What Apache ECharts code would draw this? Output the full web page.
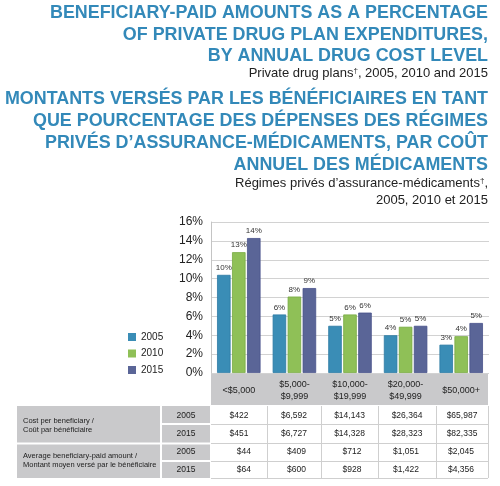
<!DOCTYPE html>
<html>
<head>
<meta charset="utf-8">
<script src="https://cdn.jsdelivr.net/npm/echarts@6/dist/echarts.min.js"></script>
<style>
html,body{margin:0;padding:0;background:#fff;}
#chart{width:500px;height:486px;}
</style>
</head>
<body>
<div id="chart"></div>
<script>
// ---- data ----
const categories = ['<$5,000', '$5,000-\n$9,999', '$10,000-\n$19,999', '$20,000-\n$49,999', '$50,000+'];
const years = ['2005', '2010', '2015'];
const pct2005 = [10.4, 6.2, 5.0, 4.0, 3.0];
const pct2010 = [12.8, 8.1, 6.2, 4.9, 3.9];
const pct2015 = [14.3, 9.0, 6.4, 5.0, 5.3];
const yMin = 0, yMax = 16, yStep = 2;

const titleEn = ['BENEFICIARY-PAID AMOUNTS AS A PERCENTAGE', 'OF PRIVATE DRUG PLAN EXPENDITURES,', 'BY ANNUAL DRUG COST LEVEL'];
const subEn = ['Private drug plans†, 2005, 2010 and 2015'];
const titleFr = ['MONTANTS VERSÉS PAR LES BÉNÉFICIAIRES EN TANT', 'QUE POURCENTAGE DES DÉPENSES DES RÉGIMES', 'PRIVÉS D’ASSURANCE-MÉDICAMENTS, PAR COÛT', 'ANNUEL DES MÉDICAMENTS'];
const subFr = ['Régimes privés d’assurance-médicaments†,', '2005, 2010 et 2015'];

const rowGroupLabels = ['Cost per beneficiary /\nCoût par bénéficiaire', 'Average beneficiary-paid amount /\nMontant moyen versé par le bénéficiaire'];
const tableYears = ['2005', '2015'];
const cost2005 = ['$422', '$6,592', '$14,143', '$26,364', '$65,987'];
const cost2015 = ['$451', '$6,727', '$14,328', '$28,323', '$82,335'];
const paid2005 = ['$44', '$409', '$712', '$1,051', '$2,045'];
const paid2015 = ['$64', '$600', '$928', '$1,422', '$4,356'];

// ---- style ----
const FONT = '"Liberation Sans", Arial, Helvetica, sans-serif';
const BLUE = '#3389b9';
const colors = ['#3a8db6', '#8fc057', '#5a6597'];
const borders = ['#2c7aa3', '#77a943', '#47518a'];
const GRAY = '#c9c9cb';
const LINE = '#cfcfcf';

const chart = echarts.init(document.getElementById('chart'), null, {renderer: 'canvas'});

const graphics = [];
function txt(x, y, s, opt) {
  graphics.push({type: 'text', x: x, y: y, silent: true, style: Object.assign({
    text: s, fontFamily: FONT, fill: '#222', align: 'right', verticalAlign: 'middle'
  }, opt)});
}
function rect(x, y, w, h, fill, z) {
  graphics.push({type: 'rect', shape: {x: x, y: y, width: w, height: h}, silent: true, z: z || 0, style: {fill: fill}});
}
function line(x1, y1, x2, y2, c) {
  graphics.push({type: 'line', shape: {x1: x1, y1: y1, x2: x2, y2: y2}, silent: true, z: 1, style: {stroke: c, lineWidth: 1}});
}
const supRich = {sup: {fontSize: 8, verticalAlign: 'top', fontFamily: FONT, fill: '#222', lineHeight: 13}};
function supText(s) { return s.replace(/†/g, '{sup|†}'); }

// titles
const RX = 488;
const TFS = 17.9;
titleEn.forEach((t, i) => txt(RX, 13.5 + i * 21.5, t, {fontSize: TFS, fontWeight: 'bold', fill: BLUE}));
subEn.forEach((t, i) => txt(RX, 73, supText(t), {fontSize: 13, fill: '#222', lineHeight: 13, rich: supRich}));
titleFr.forEach((t, i) => txt(RX, 99.5 + i * 21.7, t, {fontSize: TFS, fontWeight: 'bold', fill: BLUE}));
subFr.forEach((t, i) => txt(RX, 183 + i * 17.5, supText(t), {fontSize: 13, fill: '#222', lineHeight: 13, rich: supRich}));

// table geometry
const colEdges = [211, 267, 321, 378, 436, 488];
const rowEdges = [406, 424, 443, 461, 478];
rect(211, 374, 277, 31, GRAY);
rect(17, 406, 143, 36.5, GRAY);
rect(17, 444.5, 143, 33.5, GRAY);
rect(162, 406, 48, 17, GRAY);
rect(162, 425, 48, 17.5, GRAY);
rect(162, 444.5, 48, 15.5, GRAY);
rect(162, 462, 48, 16, GRAY);
for (let r = 1; r < rowEdges.length; r++) line(211, rowEdges[r] + 0.5, 488, rowEdges[r] + 0.5, LINE);
for (let c = 1; c < colEdges.length; c++) line(colEdges[c] + 0.5, 406, colEdges[c] + 0.5, 478, LINE);

txt(23, 425, rowGroupLabels[0], {fontSize: 7.5, align: 'left', lineHeight: 9});
txt(23, 460.5, rowGroupLabels[1], {fontSize: 7.5, align: 'left', lineHeight: 9});
const rowCenters = [415.5, 433.5, 452, 469.5];
const rowsData = [cost2005, cost2015, paid2005, paid2015];
const rowYears = [tableYears[0], tableYears[1], tableYears[0], tableYears[1]];
rowsData.forEach((row, r) => {
  txt(186, rowCenters[r], rowYears[r], {fontSize: 8.5, align: 'center'});
  row.forEach((v, c) => {
    const cx = (colEdges[c] + colEdges[c + 1]) / 2;
    if (r < 2) txt(cx, rowCenters[r], v, {fontSize: 8.5, align: 'center'});
    else txt(cx + 12, rowCenters[r], v, {fontSize: 8.5, align: 'right'});
  });
});

const seriesData = [pct2005, pct2010, pct2015];
const series = years.map((y, i) => ({
  name: y,
  type: 'bar',
  data: seriesData[i],
  barWidth: 13.5,
  barGap: '11%',
  itemStyle: {color: colors[i], borderColor: borders[i], borderWidth: 0.8},
  label: {
    show: true, position: 'top', distance: 3,
    fontSize: 8, color: '#333', fontFamily: FONT,
    formatter: p => Math.round(p.value) + '%'
  },
  z: 5
}));

chart.setOption({
  animation: false,
  backgroundColor: '#fff',
  textStyle: {fontFamily: FONT},
  grid: {left: 211, right: 11, top: 222, bottom: 113, containLabel: false},
  legend: {
    orient: 'vertical', left: 128, top: 331, padding: 0,
    itemWidth: 8, itemHeight: 8, itemGap: 4.5,
    icon: 'rect',
    itemStyle: {borderWidth: 0},
    textStyle: {fontSize: 10, color: '#222', fontFamily: FONT, lineHeight: 12},
    data: years
  },
  xAxis: {
    type: 'category',
    data: categories,
    axisLine: {show: false},
    axisTick: {show: false},
    axisLabel: {fontSize: 9, color: '#222', margin: 18, lineHeight: 12, verticalAlign: 'middle', interval: 0}
  },
  yAxis: {
    type: 'value',
    min: yMin, max: yMax, interval: yStep,
    axisLine: {show: true, lineStyle: {color: '#c4c4c4'}},
    axisTick: {show: false},
    splitLine: {lineStyle: {color: '#d2d2d2'}},
    axisLabel: {formatter: '{value}%', fontSize: 12, color: '#222', margin: 8}
  },
  series: series,
  graphic: graphics
});
</script>
</body>
</html>
